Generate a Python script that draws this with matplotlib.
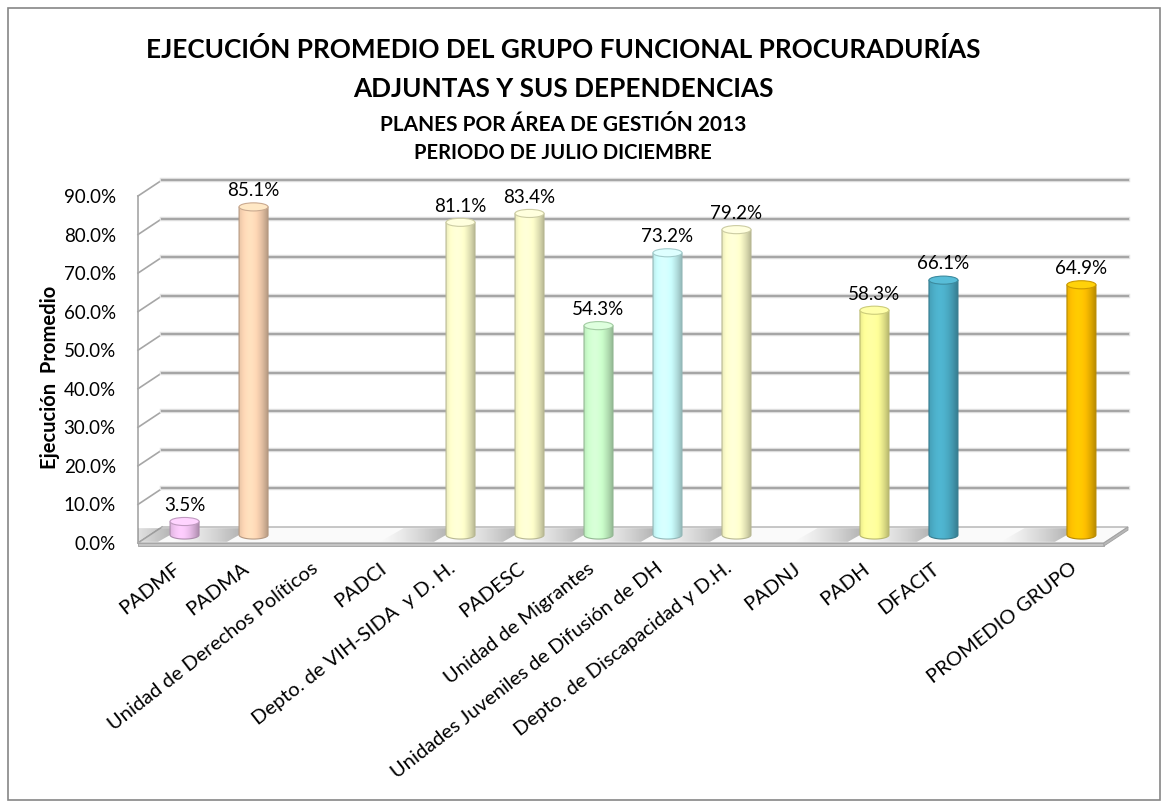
import numpy as np
import matplotlib.pyplot as plt
from matplotlib.patches import Polygon, Ellipse, Rectangle
from matplotlib.colors import to_rgb

plt.rcParams['font.family'] = ['Lato', 'DejaVu Sans']

# datos
categorias = ['PADMF', 'PADMA', 'Unidad de Derechos Políticos', 'PADCI',
              'Depto. de VIH-SIDA  y D. H.', 'PADESC', 'Unidad de Migrantes',
              'Unidades Juveniles de Difusión de DH',
              'Depto. de Discapacidad y D.H.', 'PADNJ', 'PADH', 'DFACIT', '',
              'PROMEDIO GRUPO']
valores = [3.5, 85.1, None, None, 81.1, 83.4, 54.3, 73.2, 79.2, None,
           58.3, 66.1, None, 64.9]
colores = ['#F0C2F0', '#FCD5B4', None, None, '#FFFFCC', '#FFFFCC', '#CCFFCC',
           '#CCFFFF', '#FFFFCC', None, '#FFFF99', '#4BACC6', None, '#FFC000']
yticks = np.arange(0, 91, 10)

titulo1 = 'EJECUCIÓN PROMEDIO DEL GRUPO FUNCIONAL PROCURADURÍAS'
titulo2 = 'ADJUNTAS Y SUS DEPENDENCIAS'
titulo3 = 'PLANES POR ÁREA DE GESTIÓN 2013'
titulo4 = 'PERIODO DE JULIO DICIEMBRE'

n = len(categorias)
DX = 0.35   # profundidad 3D en unidades de categoria
DY = 4.15   # profundidad 3D en %
W = 0.42    # ancho del cilindro
RY = 1.05   # semi-eje vertical de la elipse

fig = plt.figure(figsize=(11.67, 8.08), dpi=100)
ax = fig.add_axes([138/1167, 1 - 543/808, 990/1167, 363/808])
ax.set_xlim(-0.5, n - 0.5 + DX)
ax.set_ylim(0, 90 + DY)
for s in ax.spines.values():
    s.set_visible(False)

x0, x1 = -0.5, n - 0.5
grid_c = '#A6A6A6'

# piso
piso = Polygon([(x0, 0), (x1, 0), (x1 + DX, DY), (x0 + DX, DY)],
               closed=True, facecolor='#FAFAFA', edgecolor='#B0B0B0', lw=1,
               zorder=1, clip_on=False)
ax.add_patch(piso)
ax.add_patch(Polygon([(x0, 0), (x1, 0), (x1, -0.8), (x0, -0.8)],
                     closed=True, facecolor='#C4C4C4', edgecolor='#A0A0A0',
                     lw=0.6, zorder=1, clip_on=False))
ax.add_patch(Polygon([(x1, 0), (x1 + DX, DY), (x1 + DX, DY - 0.8), (x1, -0.8)],
                     closed=True, facecolor='#B8B8B8', edgecolor='#A0A0A0',
                     lw=0.6, zorder=1, clip_on=False))

# paredes y cuadricula
for v in yticks:
    ax.plot([x0, x0 + DX], [v, v + DY], color=grid_c, lw=1.2, zorder=0,
            clip_on=False)
    if v > 0:
        ax.plot([x0 + DX, x1 + DX], [v + DY, v + DY], color='#E4E4E4', lw=3.2,
                zorder=0, clip_on=False)
        ax.plot([x0 + DX, x1 + DX], [v + DY, v + DY], color=grid_c, lw=1.6,
                zorder=0, clip_on=False)
ax.plot([x0, x0], [0, 90], color=grid_c, lw=1.2, zorder=0, clip_on=False)

# sombras en el piso
for i, v in enumerate(valores):
    if v is None:
        continue
    xc = i + DX / 2
    sx0, sx1 = xc - 1.0, xc - W / 2
    sombra = Polygon([(sx0 - DX / 2, 0.3), (sx1 - DX / 2, 0.3),
                      (sx1 + DX / 2, DY - 0.3), (sx0 + DX / 2, DY - 0.3)],
                     closed=True, facecolor='none', edgecolor='none')
    ax.add_patch(sombra)
    g = np.zeros((1, 64, 4))
    g[..., :3] = 0.5
    g[0, :, 3] = np.linspace(0, 0.75, 64) ** 1.3
    im = ax.imshow(g, extent=(sx0 - DX / 2, sx1 + DX / 2, 0, DY),
                   aspect='auto', zorder=2, interpolation='bilinear')
    im.set_clip_path(sombra)

# cilindros
t = np.linspace(0, 1, 80)
perfil = 1.06 - 0.34 * (np.abs(t - 0.38) / 0.62) ** 1.8
for i, v in enumerate(valores):
    if v is None:
        continue
    base = np.array(to_rgb(colores[i]))
    xc = i + DX / 2
    yb = DY / 2
    top = yb + v
    grad = np.clip(base[None, None, :] * perfil[None, :, None], 0, 1)
    th = np.linspace(np.pi, 2 * np.pi, 30)
    verts = [(xc - W / 2, top), (xc - W / 2, yb)]
    verts += [(xc + W / 2 * np.cos(a), yb + RY * np.sin(a)) for a in th]
    verts += [(xc + W / 2, top), (xc - W / 2, top)]
    cuerpo = Polygon(verts, closed=True, facecolor='none',
                     edgecolor=np.clip(base * 0.72, 0, 1), lw=0.8, zorder=4)
    ax.add_patch(cuerpo)
    im = ax.imshow(grad, extent=(xc - W / 2, xc + W / 2, yb - RY, top),
                   aspect='auto', zorder=3, interpolation='bilinear')
    im.set_clip_path(cuerpo)
    tapa = np.clip(base * 1.04 + 0.04, 0, 1)
    ax.add_patch(Ellipse((xc, top), W, 2 * RY, facecolor=tapa,
                         edgecolor=np.clip(base * 0.8, 0, 1), lw=0.8,
                         zorder=5))
    ax.text(xc, top + 4.2, f'{v:.1f}%', ha='center', va='center',
            fontsize=13.5, zorder=6)

# ejes
ax.set_yticks(yticks)
ax.set_yticklabels([f'{v:.1f}%' for v in yticks], fontsize=13.5)
ax.set_xticks(range(n))
ax.set_xticklabels(categorias, rotation=38, ha='right',
                   rotation_mode='anchor', fontsize=14.5)
ax.tick_params(axis='y', length=0, pad=16)
ax.tick_params(axis='x', length=0, pad=12)

fig.text(50/1167, 1 - 377/808, 'Ejecución  Promedio', rotation=90,
         ha='center', va='center', fontsize=14.5, fontweight='bold')

fig.text(563/1167, 1 - 50/808, titulo1, ha='center', va='center',
         fontsize=18.8, fontweight='bold')
fig.text(563/1167, 1 - 89/808, titulo2, ha='center', va='center',
         fontsize=18.8, fontweight='bold')
fig.text(563/1167, 1 - 125/808, titulo3, ha='center', va='center',
         fontsize=15, fontweight='bold')
fig.text(563/1167, 1 - 153/808, titulo4, ha='center', va='center',
         fontsize=14.5, fontweight='bold')

fig.add_artist(Rectangle((8/1167, 8/808), 1152/1167, 792/808,
                         transform=fig.transFigure, fill=False,
                         edgecolor='#868686', lw=1.2))

fig.savefig('out.png', dpi=100)
